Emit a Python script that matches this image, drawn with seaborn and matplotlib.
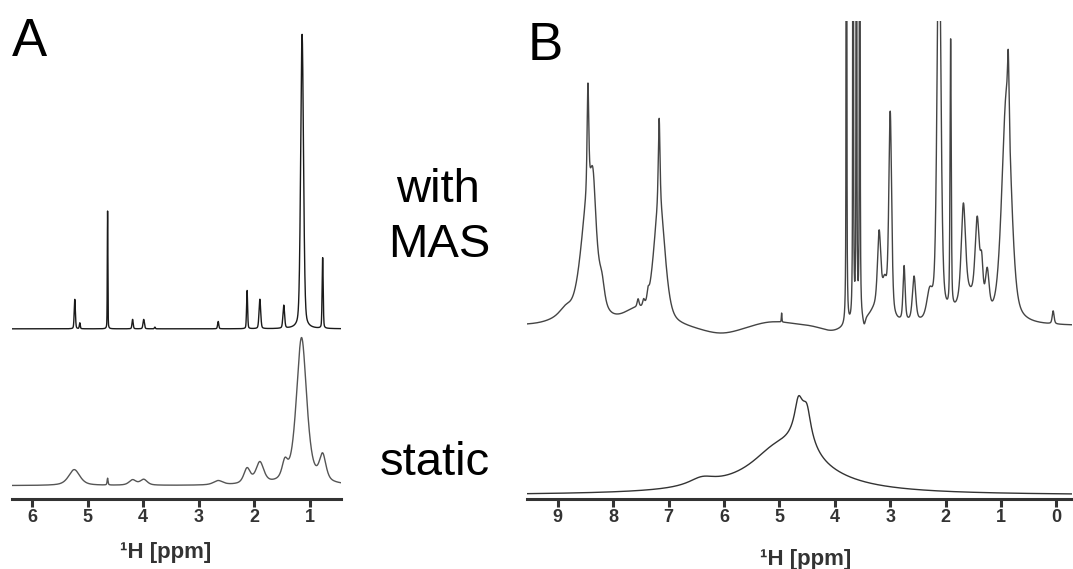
import numpy as np
import pandas as pd
import matplotlib
matplotlib.use("Agg")
import matplotlib.pyplot as plt
import seaborn as sns

# ---------------- data (peak lists) ----------------
# Panel A, with MAS: chemical shift (ppm), relative intensity, line width (ppm)
a_mas_ppm = [5.23, 5.14, 4.64, 4.19, 3.99, 3.79, 2.65, 2.13, 1.90, 1.47, 1.14, 0.77]
a_mas_int = [0.10, 0.02, 0.40, 0.032, 0.032, 0.006, 0.025, 0.13, 0.10, 0.078, 1.0, 0.24]
a_mas_fwhm = [0.025, 0.02, 0.012, 0.025, 0.03, 0.02, 0.025, 0.022, 0.035, 0.035, 0.06, 0.022]

# Panel A, static
a_st_ppm = [5.24, 4.64, 4.19, 3.99, 2.65, 2.13, 1.90, 1.45, 1.15, 0.77]
a_st_int = [0.105, 0.045, 0.035, 0.038, 0.028, 0.10, 0.14, 0.11, 0.97, 0.17]
a_st_fwhm = [0.24, 0.02, 0.15, 0.15, 0.20, 0.14, 0.17, 0.12, 0.22, 0.14]

# Panel B, with MAS (intensity in arbitrary units)
b_mas_ppm = [8.455, 8.44, 8.36, 8.20, 8.85, 8.95,
             7.17, 7.165, 7.37, 7.45, 7.55, 7.60,
             6.05, 5.15, 4.96, 4.05,
             3.79, 3.67, 3.61, 3.55, 3.47,
             3.20, 3.10, 3.00, 3.25, 2.75, 2.57, 2.29,
             2.12, 1.91, 1.68, 1.43, 1.35, 1.25, 1.60,
             0.87, 0.90, 0.06]
b_mas_int = [105, 130, 45, 15, 8, 4,
             85, 120, 8, 6, 8, 12,
             -9, 5, 9, -6,
             1500, 1500, 1500, 1500, -8,
             75, 30, 205, 15, 55, 45, 25,
             420, 270, 95, 85, 40, 40, 25,
             60, 230, 13]
b_mas_fwhm = [0.035, 0.32, 0.10, 0.10, 0.25, 0.5,
              0.035, 0.24, 0.04, 0.04, 0.04, 0.50,
              1.0, 0.9, 0.012, 0.5,
              0.010, 0.010, 0.010, 0.010, 0.05,
              0.07, 0.10, 0.06, 0.30, 0.045, 0.07, 0.12,
              0.08, 0.025, 0.09, 0.09, 0.06, 0.08, 0.40,
              0.03, 0.20, 0.04]

# Panel B, static
b_st_ppm = [4.66, 4.50, 4.58, 4.80, 5.10, 6.40]
b_st_int = [24, 20, 33, 35, 14, 8]
b_st_fwhm = [0.16, 0.16, 0.40, 1.80, 1.00, 0.60]

a_ticks = [6, 5, 4, 3, 2, 1]
b_ticks = [9, 8, 7, 6, 5, 4, 3, 2, 1, 0]


def spectrum(x, ppm, inten, fwhm, eta):
    y = np.zeros_like(x)
    for c, h, w in zip(ppm, inten, fwhm):
        d = (x - c) / w
        lor = 1.0 / (1.0 + 4.0 * d ** 2)
        gau = np.exp(-4.0 * np.log(2) * d ** 2)
        y += h * (eta * lor + (1 - eta) * gau)
    return y


sns.set_theme(style="white")
plt.rcParams["font.family"] = ["Liberation Sans", "DejaVu Sans"]

W, H = 1073, 569
fig = plt.figure(figsize=(W / 100, H / 100), dpi=100)
axA = fig.add_axes([12 / W, 70 / H, 329 / W, 478 / H])
axB = fig.add_axes([526.7 / W, 70 / H, 545.3 / W, 478 / H])

xa = np.linspace(6.36, 0.44, 6000)
xb = np.linspace(9.56, -0.28, 12000)

# offset / scale in axes units (layout)
dfA1 = pd.DataFrame({"ppm": xa, "y": 0.356 + 0.616 * spectrum(xa, a_mas_ppm, a_mas_int, a_mas_fwhm, 0.3)})
dfA2 = pd.DataFrame({"ppm": xa, "y": 0.028 + 0.317 * spectrum(xa, a_st_ppm, a_st_int, a_st_fwhm, 0.6)})
dfB1 = pd.DataFrame({"ppm": xb, "y": 0.362 + spectrum(xb, b_mas_ppm, b_mas_int, b_mas_fwhm, 0.5) / 478})
dfB2 = pd.DataFrame({"ppm": xb, "y": 0.008 + spectrum(xb, b_st_ppm, b_st_int, b_st_fwhm, 1.0) / 478})

sns.lineplot(data=dfA1, x="ppm", y="y", ax=axA, color="#1a1a1a", lw=1.0, sort=False, estimator=None)
sns.lineplot(data=dfA2, x="ppm", y="y", ax=axA, color="#555555", lw=1.0, sort=False, estimator=None)
sns.lineplot(data=dfB1, x="ppm", y="y", ax=axB, color="#444444", lw=1.0, sort=False, estimator=None)
sns.lineplot(data=dfB2, x="ppm", y="y", ax=axB, color="#333333", lw=1.0, sort=False, estimator=None)

for ax, lim, ticks, lx, ly in [(axA, (6.36, 0.44), a_ticks, 0.468, -0.1234),
                               (axB, (9.56, -0.28), b_ticks, 0.512, -0.138)]:
    ax.set_xlim(*lim)
    ax.set_ylim(0, 1)
    ax.set_facecolor("none")
    ax.set_xticks(ticks)
    ax.set_xticklabels([str(t) for t in ticks])
    ax.set_yticks([])
    ax.set_ylabel("")
    for s in ["left", "right", "top"]:
        ax.spines[s].set_visible(False)
    ax.spines["bottom"].set_linewidth(2.2)
    ax.spines["bottom"].set_color("#333333")
    ax.tick_params(axis="x", direction="out", length=5.5, width=2.2, color="#333333",
                   labelsize=13, labelcolor="#333333", pad=1.5, bottom=True)
    for t in ax.get_xticklabels():
        t.set_fontweight("bold")
    ax.set_xlabel("¹H [ppm]", fontsize=16, fontweight="bold", color="#333333")
    ax.xaxis.label.set_va("baseline")
    ax.xaxis.set_label_coords(lx, ly)

fig.text(12 / W, 1 - 56 / H, "A", fontsize=38, ha="left", va="baseline", color="black")
fig.text(528 / W, 1 - 60 / H, "B", fontsize=38, ha="left", va="baseline", color="black")
fig.text(438 / W, 1 - 201.7 / H, "with", fontsize=34, ha="center", va="baseline", color="black")
fig.text(439 / W, 1 - 256.7 / H, "MAS", fontsize=34, ha="center", va="baseline", color="black")
fig.text(435 / W, 1 - 475 / H, "static", fontsize=34, ha="center", va="baseline", color="black")

fig.savefig("out.png", dpi=100)
